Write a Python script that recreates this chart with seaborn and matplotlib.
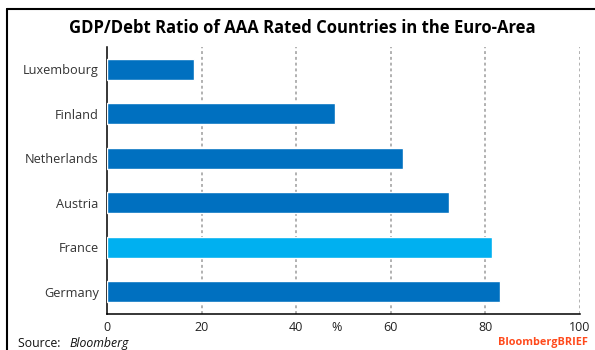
import matplotlib
matplotlib.use("Agg")
import matplotlib.pyplot as plt
import matplotlib.lines as mlines
import seaborn as sns
import pandas as pd

countries = ["Luxembourg", "Finland", "Netherlands", "Austria", "France", "Germany"]
ratio = [18.4, 48.3, 62.6, 72.2, 81.5, 83.0]
bar_colors = ["#0070C0", "#0070C0", "#0070C0", "#0070C0", "#00B0F0", "#0070C0"]
xticks = [0, 20, 40, 60, 80, 100]

df = pd.DataFrame({"country": countries, "ratio": ratio})

sns.set_style("white")
plt.rcParams["font.family"] = ["Open Sans", "DejaVu Sans"]

fig = plt.figure(figsize=(5.95, 3.5), dpi=100)
ax = fig.add_axes([0.1798, 0.1029, 0.795, 0.7628])

sns.barplot(data=df, x="ratio", y="country", hue="country",
            palette=dict(zip(countries, bar_colors)), legend=False,
            width=0.48, saturation=1, ax=ax, zorder=3)

ax.set_xlim(0, 100)
ax.set_ylim(5.5, -0.5)
ax.set_xticks(xticks)
ax.set_xticklabels([str(t) for t in xticks], fontsize=9, color="#222222")
ax.tick_params(axis="y", labelsize=9.2, labelcolor="#333333", length=0, pad=6)
ax.tick_params(axis="x", length=0, pad=5)
ax.set_xlabel("")
ax.set_ylabel("")

# dotted vertical gridlines, bars drawn over them
for t in xticks[1:]:
    ax.axvline(t, color="#ABABAB", lw=1.3, ls=(0, (1.6, 1.6)), zorder=1)

for s in ["top", "right"]:
    ax.spines[s].set_visible(False)
for s in ["left", "bottom"]:
    ax.spines[s].set_color("black")
    ax.spines[s].set_linewidth(1.1)

ax.text(48.5, -0.05, "%", transform=ax.get_xaxis_transform(),
        ha="center", va="center", fontsize=9, color="#222222")

fig.text(0.508, 0.92, "GDP/Debt Ratio of AAA Rated Countries in the Euro-Area",
         ha="center", va="center", fontsize=12, fontweight="bold", color="black")

fig.text(0.03, 0.018, "Source:  ", ha="left", va="center", fontsize=8.8, color="#111111")
fig.text(0.117, 0.018, "Bloomberg", ha="left", va="center", fontsize=8.8,
         style="italic", color="#111111")
fig.text(0.988, 0.02, "BloombergBRIEF", ha="right", va="center", fontsize=7.8,
         fontweight="bold", color="#FF4A1C")

# outer frame: only left and top edges are visible in the crop
x0, y0 = 7 / 595, 1 - 9 / 350
fig.lines.append(mlines.Line2D([x0, x0], [0, y0], transform=fig.transFigure,
                               color="black", lw=1.5))
fig.lines.append(mlines.Line2D([x0, 1], [y0, y0], transform=fig.transFigure,
                               color="black", lw=1.5))

fig.savefig("out.png", dpi=100)
